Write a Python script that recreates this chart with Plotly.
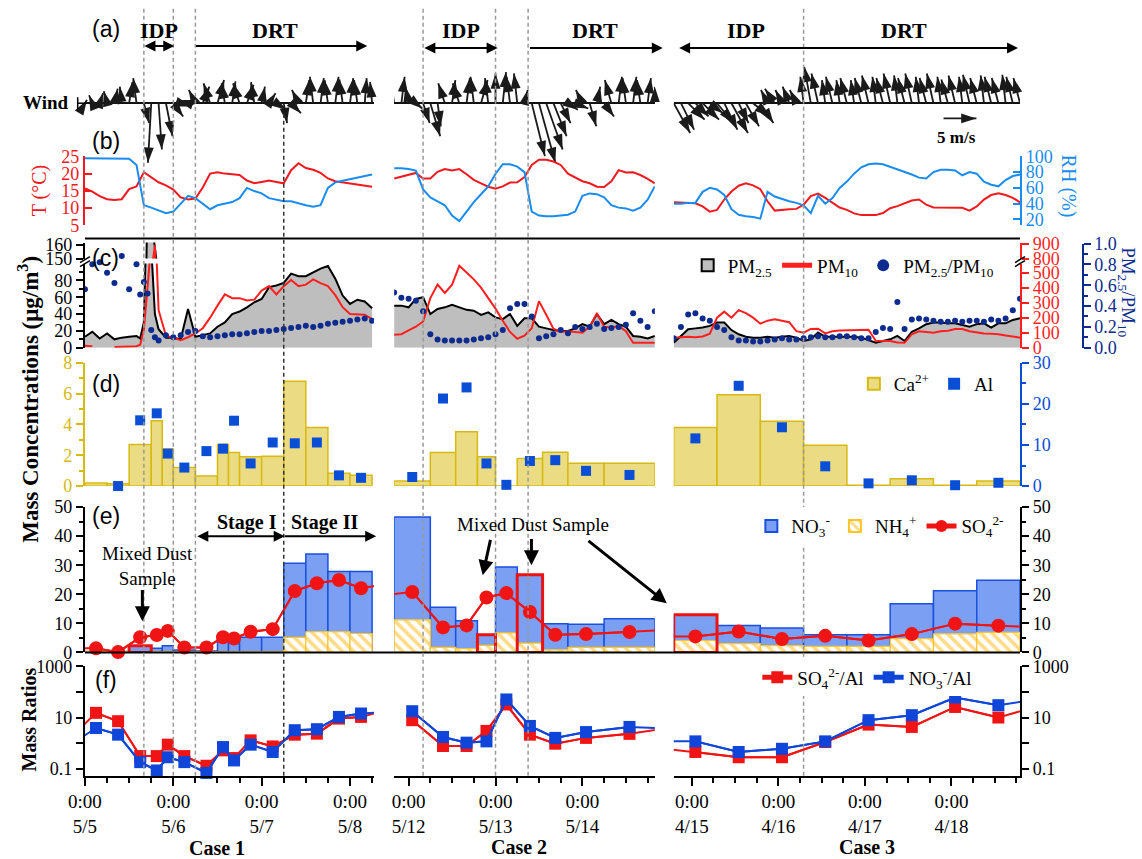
import math
from datetime import datetime, timedelta
import plotly.graph_objects as go

W, H = 1142, 875
SERIF = "Liberation Serif"
SANS = "Liberation Sans"

# ------------------------------------------------------------------ data
# Case 1: 5/5 - 5/8
c1_start = datetime(2015, 5, 5, 0)
c1_span_h = 78.5
c1_days = [datetime(2015, 5, d) for d in (5, 6, 7, 8)]
c1_idp = [16, 24]          # hours from start
c1_drt = 30
c1_stage2 = 54
c1_met_h = list(range(0, 79, 2))
c1_temp = [15.7, 14.8, 13.5, 12.6, 12.4, 12.6, 15.5, 16.3, 20.4, 19.0, 17.5, 16.6, 15.4, 13.1, 12.5, 12.8,
           16.0, 20.0, 20.4, 20.0, 19.7, 19.6, 18.0, 17.2, 17.6, 18.0, 17.6, 17.2, 21.0, 23.0, 21.6, 21.1,
           20.2, 18.6, 17.8, 17.5, 17.2, 17.0, 16.6, 16.2]
c1_rh = [97.5, 97.5, 97.5, 97.5, 97.5, 97.5, 97, 89, 38, 35, 31, 28, 30, 40, 50, 47, 40, 33, 38, 40,
         42, 47, 60, 56, 53, 47, 45, 43, 43, 40, 38, 36, 38, 60, 67, 69, 71, 73, 75, 77]
c1_wind_u = [0.3, -0.5, 0.5, -0.5, 0.5, -0.3, 0.5, -0.5, 0.8, -0.5, 0.5, 1.0, 1.5, 1.5, -1.5, -1.0,
             1.0, -1.0, 1.0, -0.5, 0.5, -1.0, 1.0, -0.5, 0.5, 1.0, 1.5, 0.5, 1.5, -1.0, 0.5, -0.5,
             0.5, -0.5, 0.5, -0.5, 0.5, -0.5, 0.3, -0.3]
c1_wind_v = [0.5, 1.2, 1.5, 1.8, 2.2, 2.5, 3.2, 3.8, -3.0, -9.0, -7.0, -5.0, -2.0, -0.5, 0.5, 2.0,
             2.5, 3.0, 3.5, 3.0, 3.3, 3.0, 2.8, 3.2, 2.5, 1.5, -1.0, -3.0, -1.5, 2.0, 3.5, 4.0,
             3.8, 3.5, 4.0, 3.6, 3.8, 3.5, 3.8, 3.2]
c1_pm_h = [0, 2, 4, 6, 8, 10, 12, 14, 15, 16, 17, 18, 19, 20, 22, 24, 26, 28, 30, 32, 34, 36, 38, 40,
           42, 44, 46, 48, 50, 52, 54, 56, 58, 60, 62, 64, 66, 68, 70, 72, 74, 76, 78]
c1_pm25 = [13, 19, 11, 17, 10, 12, 13, 14, 11, 30, 200, 120, 40, 22, 12, 12, 10, 46, 13, 15, 17, 25,
           30, 40, 43, 48, 54, 58, 72, 74, 77, 88, 85, 85, 90, 94, 97, 82, 62, 52, 57, 55, 47]
c1_pm10 = [13, 10, None, None, 5, 5, 7, 10, 20, 120, 400, 700, 890, 250, 80, 67, 50, 70, 95, 130, 200,
           280, 355, 330, 330, 315, 320, 380, 410, 355, 410, 450, 410, 420, 455, 430, 410, 350, 270,
           225, 225, 220, 190]
c1_ratio = [0.56, 0.8, 0.82, 0.72, 0.62, 0.88, 0.56, 0.8, 0.51, 0.63, 0.52, 0.17, 0.10, 0.07, 0.12,
            0.10, 0.12, 0.15, 0.16, 0.11, 0.10, 0.11, 0.12, 0.13, 0.13, 0.14, 0.15, 0.16, 0.16, 0.17,
            0.18, 0.19, 0.20, 0.21, 0.20, 0.21, 0.23, 0.24, 0.25, 0.26, 0.27, 0.28, 0.26]
c1_edges = [-6, 0, 6, 12, 18, 21, 24, 30, 36, 39, 42, 48, 54, 60, 66, 72, 78, 84]
c1_ca = [None, 0.2, 0.15, 2.7, 4.24, 2.4, 1.2, 0.65, 2.7, 2.17, 1.9, 1.93, 6.8, 3.8, 0.83, 0.7, None]
c1_al = [None, None, 0.0, 16.0, 17.7, 7.9, 4.5, 8.5, 9.1, 15.9, 5.5, 10.6, 10.4, 10.6, 2.6, 2.0, None]
c1_no3 = [None, 0.3, 0.3, 2.3, 1.4, 2.3, 0.8, 0.5, 4.5, 5.2, 5.2, 5.2, 30.7, 33.9, 27.8, 27.8, None]
c1_nh4 = [None, 0.3, 0.3, 0.3, 0.3, 0.3, 0.3, 0.3, 0.3, 0.3, 0.3, 0.3, 5.2, 7.1, 7.1, 6.5, None]
c1_so4 = [1.4, 1.4, 0.1, 5.2, 6.0, 7.4, 1.7, 1.7, 5.2, 4.8, 7.1, 8.0, 21.1, 23.8, 24.9, 22.1, 23.3]
c1_so4_al = [2.2, 15.3, 7.2, 0.31, 0.31, 0.87, 0.31, 0.13, 0.52, 0.26, 1.28, 0.74, 2.14, 2.34, 9.1, 10.6, 18]
c1_no3_al = [1.05, 3.9, 2.14, 0.18, 0.085, 0.28, 0.18, 0.068, 0.7, 0.21, 0.87, 0.45, 3.2, 3.5, 10.6, 14.4, 16]
c1_mixed = [3]

# Case 2: 5/12 - 5/14
c2_start = datetime(2015, 5, 11, 20)
c2_span_h = 72
c2_days = [datetime(2015, 5, d) for d in (12, 13, 14)]
c2_idp = [8, 28]
c2_drt = 37
c2_met_h = list(range(0, 73, 2))
c2_temp = [18.6, 19.2, 19.8, 20.2, 18.6, 18.6, 20.5, 21.3, 20.9, 21.3, 19.8, 18.2, 17.2, 16.2, 15.6,
           16.3, 17.4, 17.5, 19.0, 22.5, 24.0, 24.0, 23.5, 22.5, 20.0, 19.0, 17.8, 17.2, 16.2, 16.1,
           17.8, 21.0, 20.3, 20.4, 19.6, 18.5, 17.2]
c2_rh = [85, 85, 84, 82, 58, 48, 43, 38, 25, 18, 30, 42, 52, 62, 78, 90, 90, 87, 80, 30, 25, 24, 24,
         25, 26, 30, 50, 53, 52, 48, 38, 35, 34, 31, 35, 45, 62]
c2_wind_u = [-0.5, 0.5, -0.5, 1.0, 1.0, 1.5, 0.5, -1.0, 0.5, -1.0, 0.5, -0.5, 1.0, -0.5, 0.0, 0.5,
             -0.5, -0.5, 0.5, 2.0, 2.5, 2.5, 2.0, 1.5, 1.5, 2.0, -1.0, 1.0, 0.5, 1.5, -1.0, 0.5,
             -0.5, 0.5, -0.5, 0.5, 0.0]
c2_wind_v = [3.5, 4.0, 2.5, -0.8, -3.0, -5.0, -3.5, 3.0, 3.5, 3.0, 3.8, 4.0, 3.5, 3.8, 4.5, 4.7,
             4.0, 4.5, 2.0, -8.0, -9.0, -7.0, -5.0, -3.0, -1.0, -0.8, 2.0, -3.5, 2.5, -2.0, 3.5,
             4.0, 3.8, 4.0, 3.5, 3.8, 2.5]
c2_pm_h = list(range(0, 73, 2))
c2_pm25 = [50, 50, 48, 58, 60, 40, 46, 48, 51, 48, 45, 44, 39, 42, 36, 34, 40, 26, 35, 35, 25, 23, 21,
           20, 20, 23, 28, 25, 40, 28, 33, 28, 25, 14, 13, 11, 14]
c2_pm10 = [87, 90, 115, 140, 175, 330, 420, 365, 420, 545, 500, 455, 400, 330, 260, 180, 105, 60, 80,
           130, 310, 220, 127, 105, 110, 105, 100, 140, 230, 140, 133, 145, 110, 33, 33, 33, 33]
c2_ratio = [0.53, 0.48, 0.47, 0.45, 0.35, 0.13, 0.08, 0.07, 0.07, 0.07, 0.07, 0.08, 0.09, 0.10, 0.13,
            0.17, 0.38, 0.42, 0.42, 0.30, 0.09, 0.11, 0.13, 0.17, 0.14, 0.20, 0.18, 0.20, 0.23, 0.18,
            0.19, 0.20, 0.22, 0.33, 0.26, 0.20, 0.35]
c2_edges = [-10, 0, 10, 17, 23, 28, 34, 41, 48, 58, 72, 82]
c2_ca = [None, 0.33, 2.17, 3.52, 1.9, 0.0, 1.78, 2.2, 1.48, 1.48, None]
c2_al = [None, 2.2, 21.3, 24.0, 5.5, 0.3, 6.1, 6.3, 3.7, 2.7, None]
c2_no3 = [None, 46.6, 15.5, 10.9, 6.1, 29.4, 26.7, 9.9, 9.7, 11.6, None]
c2_nh4 = [None, 11.2, 1.7, 1.3, 2.4, 6.7, 3.2, 0.9, 1.7, 1.7, None]
c2_so4 = [19.4, 20.8, 8.6, 9.3, 18.9, 20.4, 13.9, 6.1, 6.3, 7.0, 7.9]
c2_so4_al = [None, 7.9, 0.77, 0.77, 3.0, 32.5, 2.14, 0.95, 1.6, 2.3, 4.1]
c2_no3_al = [None, 17.7, 1.74, 1.04, 1.17, 51, 4.7, 1.6, 2.7, 4.3, 3.7]
c2_mixed = [4, 6]

# Case 3: 4/15 - 4/18
c3_start = datetime(2015, 4, 14, 19)
c3_span_h = 96
c3_days = [datetime(2015, 4, d) for d in (15, 16, 17, 18)]
c3_drt = 36
c3_met_h = list(range(0, 97, 2))
c3_temp = [11.7, 11.6, 11.5, 11.4, 10.5, 9.0, 9.5, 12.5, 14.8, 16.5, 17.2, 16.6, 15.5, 12.0, 9.3, 9.6,
           9.7, 9.8, 11.0, 13.5, 14.2, 13.0, 11.5, 10.2, 9.5, 8.5, 8.0, 8.0, 8.0, 8.6, 10.0, 10.6, 11.3,
           12.2, 12.5, 11.0, 10.2, 10.2, 10.2, 10.2, 10.1, 9.3, 10.5, 12.5, 13.8, 14.3, 13.8, 13.0, 11.7]
c3_rh = [40, 40, 41, 41, 55, 60, 58, 51, 33, 26, 24, 23, 21, 55, 49, 46, 43, 41, 38, 28, 50, 40, 47,
         60, 68, 78, 86, 90, 91, 90, 87, 84, 80, 77, 73, 72, 80, 83, 83, 82, 76, 80, 78, 68, 64, 62,
         70, 75, 77]
c3_wind_u = [2.5, 2.0, 2.5, 2.0, 2.5, 2.0, 2.5, 2.0, 2.5, 1.5, 2.0, 2.5, 2.0, -1.0, -1.5, -1.0, -1.0,
             -1.0, -0.5, -1.0, -1.0, -0.5, -1.0, -0.5, -1.0, -0.5, -1.0, -1.0, -0.5, -1.0, -1.0,
             -0.5, -1.0, -1.0, -0.5, -1.0, -1.0, -0.5, -1.0, -1.0, -0.5, -1.0, -1.0, -0.5, -1.0,
             -1.0, -0.5, -1.0, -1.0]
c3_wind_v = [-4.5, -4.0, -2.5, -2.0, -2.5, -1.5, -3.0, -4.0, -4.5, -3.0, -3.5, -2.0, -3.0, 2.0, 2.2,
             2.0, 2.5, 2.0, 4.0, 5.5, 4.5, 3.5, 4.0, 3.5, 3.8, 3.5, 3.8, 4.2, 4.0, 3.8, 4.5, 4.2, 3.8,
             4.5, 4.0, 3.8, 4.5, 4.0, 3.6, 4.2, 4.0, 4.3, 3.8, 4.2, 4.0, 3.8, 4.3, 4.0, 3.8]
c3_pm_h = list(range(0, 97, 2))
c3_pm25 = [6, 14, 22, 23, 24, 26, 30, 30, 21, 16, 13, 12, 12, 13, 12, 13, 14, 12, 8, 10, 18, 13, 13,
           13, 13, 13, 12, 9, 6, 8, 10, 14, 8, 19, 23, 28, 30, 30, 29, 29, 27, 25, 28, 29, 24, 29, 29,
           33, 35]
c3_pm10 = [67, 70, 73, 70, 75, 93, 200, 240, 200, 250, 230, 200, 160, 180, 190, 180, 170, 110, 100,
           125, 127, 95, 110, 115, 117, 117, 117, 120, 47, 47, 45, 35, 33, 90, 110, 105, 100, 110,
           113, 125, 125, 110, 100, 95, 93, 90, 82, 75, 67]
c3_ratio = [0.09, 0.20, 0.32, 0.33, 0.28, 0.26, 0.20, 0.17, 0.10, 0.07, 0.07, 0.06, 0.06, 0.07, 0.08,
            0.09, 0.08, 0.08, 0.09, 0.10, 0.11, 0.10, 0.10, 0.11, 0.11, 0.10, 0.09, 0.09, 0.15, 0.19,
            0.18, 0.44, 0.18, 0.27, 0.28, 0.27, 0.26, 0.25, 0.25, 0.26, 0.25, 0.26, 0.26, 0.25, 0.27,
            0.26, 0.28, 0.36, 0.47]
c3_edges = [-12, 0, 12, 24, 36, 48, 60, 72, 84, 96, 108]
c3_ca = [None, 3.8, 5.93, 4.2, 2.65, 0.05, 0.48, 0.05, 0.33, None]
c3_al = [None, 11.6, 24.4, 14.3, 4.8, 0.65, 1.4, 0.2, 0.8, None]
c3_no3 = [None, 13.0, 9.3, 8.4, 6.1, 6.1, 16.7, 21.2, 24.8, None]
c3_nh4 = [None, 4.1, 3.0, 2.3, 2.1, 2.1, 4.7, 6.4, 6.9, None]
c3_so4 = [5.5, 5.5, 7.2, 4.6, 5.7, 4.1, 6.3, 9.9, 9.2, 8.6]
c3_so4_al = [0.68, 0.45, 0.28, 0.28, 1.1, 5.3, 4.3, 26, 10, 31]
c3_no3_al = [1.17, 1.17, 0.45, 0.6, 1.17, 7.9, 12.4, 61, 30.5, 55]
c3_mixed = [1]

SCALE_SPEED = 5  # m/s, reference arrow

# ------------------------------------------------------------------ geometry / styling
# Layout positions are written in page pixels; the page shows the figure offset by
# (14, 10) px and scaled by (0.99, 0.975), so positions are mapped back into figure pixels.
PAGE_X0, PAGE_SX = 14.0, 0.99
PAGE_Y0, PAGE_SY = 10.0, 0.975

CASE_PX = [(82.3, 372.7), (393, 655), (674, 1022)]
WIND_PX, BASE_PX, PX_PER_MS = (60, 175), 103, 6.6
MET_PX = (156, 225)
PM_LO_PX, PM_HI_PX, RATIO_PX = (263, 347), (242, 258), (243, 347)
DUST_PX, ION_PX, MR_PX = (362, 485), (506, 651), (665, 774)

T_COLOR, RH_COLOR = '#f0191e', '#1a8cf0'
PM10_COLOR, RATIO_COLOR = '#ff1f1f', '#0d2a8e'
CA_FILL, CA_EDGE = '#ebdc84', '#d6ba12'
AL_COLOR = '#0a4ed6'
NO3_FILL, NO3_EDGE = '#7b9ff2', '#1b4fe0'
NH4_COLOR = '#ffb60f'
SO4_COLOR = '#f01414'
MR_BLUE = '#0f45d8'


def px_x(p):
    return (p - PAGE_X0) / PAGE_SX / W


def px_y(p):
    return 1 - (p - PAGE_Y0) / PAGE_SY / H


def dom(pair):
    return [px_y(pair[1]), px_y(pair[0])]


axes = {}
ycount = [0]


def new_y(spec):
    ycount[0] += 1
    n = ycount[0]
    axes['yaxis' if n == 1 else f'yaxis{n}'] = spec
    return 'y' if n == 1 else f'y{n}'


def shown(color, side, tickvals, ticks='outside', fmt=None, minor_vals=None, ticktext=None):
    d = dict(visible=True, side=side, showline=True, linecolor=color, linewidth=2,
             ticks=ticks, ticklen=7, tickwidth=1.5, tickcolor=color, tickmode='array',
             tickvals=tickvals, tickfont=dict(family=SERIF, size=18, color=color),
             showgrid=False, zeroline=False)
    if ticktext is not None:
        d['ticktext'] = ticktext
    if fmt:
        d['tickformat'] = fmt
    if minor_vals is not None:
        d['minor'] = dict(tickmode='array', tickvals=minor_vals, ticks=ticks, ticklen=4,
                          tickwidth=1.5, tickcolor=color, showgrid=False)
    return d


def hid():
    return dict(visible=False, showgrid=False, zeroline=False)


wind_range = [-(WIND_PX[1] - BASE_PX) / PX_PER_MS, (BASE_PX - WIND_PX[0]) / PX_PER_MS]
RH_RANGE = [100 - (MET_PX[1] - MET_PX[0]) / 0.7875, 100]
PM25_LO = [0, 100]
PM10_LO = [0, (PM_LO_PX[1] - PM_LO_PX[0]) / 0.15]
PM25_HI = [150, 150 + (PM_HI_PX[1] - PM_HI_PX[0]) / 1.4]
PM10_HI = [800, 800 + (PM_HI_PX[1] - PM_HI_PX[0]) / 0.15]
MR_RANGE = [-1 - (MR_PX[1] - 767) / 25.5, 3]

cases = [
    dict(start=c1_start, span=c1_span_h, days=c1_days, met_h=c1_met_h, temp=c1_temp, rh=c1_rh,
         wu=c1_wind_u, wv=c1_wind_v, pm_h=c1_pm_h, pm25=c1_pm25, pm10=c1_pm10, ratio=c1_ratio,
         edges=c1_edges, ca=c1_ca, al=c1_al, no3=c1_no3, nh4=c1_nh4, so4=c1_so4,
         so4_al=c1_so4_al, no3_al=c1_no3_al, mixed=c1_mixed),
    dict(start=c2_start, span=c2_span_h, days=c2_days, met_h=c2_met_h, temp=c2_temp, rh=c2_rh,
         wu=c2_wind_u, wv=c2_wind_v, pm_h=c2_pm_h, pm25=c2_pm25, pm10=c2_pm10, ratio=c2_ratio,
         edges=c2_edges, ca=c2_ca, al=c2_al, no3=c2_no3, nh4=c2_nh4, so4=c2_so4,
         so4_al=c2_so4_al, no3_al=c2_no3_al, mixed=c2_mixed),
    dict(start=c3_start, span=c3_span_h, days=c3_days, met_h=c3_met_h, temp=c3_temp, rh=c3_rh,
         wu=c3_wind_u, wv=c3_wind_v, pm_h=c3_pm_h, pm25=c3_pm25, pm10=c3_pm10, ratio=c3_ratio,
         edges=c3_edges, ca=c3_ca, al=c3_al, no3=c3_no3, nh4=c3_nh4, so4=c3_so4,
         so4_al=c3_so4_al, no3_al=c3_no3_al, mixed=c3_mixed),
]

fig = go.Figure()
xaxes = {}

for i, cs in enumerate(cases):
    xr = 'x' if i == 0 else f'x{i + 1}'
    left, right = i == 0, i == 2
    start, span = cs['start'], cs['span']

    def at(h, start=start):
        return start + timedelta(hours=h)

    # ---- axes
    y_wind = new_y(dict(domain=dom(WIND_PX), range=wind_range, anchor=xr, visible=True,
                        showline=False, showticklabels=False, ticks='', showgrid=False,
                        zeroline=True, zerolinecolor='#111111', zerolinewidth=2))
    y_t = new_y({**(shown(T_COLOR, 'left', [5, 10, 15, 20, 25], ticks='inside') if left else hid()),
                 'domain': dom(MET_PX), 'range': [5, 25], 'anchor': xr})
    y_rh = new_y({**(shown(RH_COLOR, 'right', [20, 40, 60, 80, 100], ticks='inside') if right else hid()),
                  'overlaying': y_t, 'range': RH_RANGE, 'anchor': xr})
    y_pm25 = new_y({**(shown('black', 'left', [0, 20, 40, 60, 80], minor_vals=[10, 30, 50, 70, 90]) if left else hid()),
                    'domain': dom(PM_LO_PX), 'range': PM25_LO, 'anchor': xr})
    y_pm10 = new_y({**(shown(PM10_COLOR, 'right', [0, 100, 200, 300, 400, 500]) if right else hid()),
                    'overlaying': y_pm25, 'range': PM10_LO, 'anchor': xr})
    y_hi25 = y_hi10 = None
    if left or right:
        y_hi25 = new_y({**(shown('black', 'left', [150, 160]) if left else hid()),
                        'domain': dom(PM_HI_PX), 'range': PM25_HI, 'anchor': xr})
        y_hi10 = new_y({**(shown(PM10_COLOR, 'right', [800, 900]) if right else hid()),
                        'overlaying': y_hi25, 'range': PM10_HI, 'anchor': xr})
    if right:
        y_ratio = new_y({**shown(RATIO_COLOR, 'right', [0, 0.2, 0.4, 0.6, 0.8, 1.0], fmt='.1f',
                                 minor_vals=[0.1, 0.3, 0.5, 0.7, 0.9]),
                         'domain': dom(RATIO_PX), 'range': [0, 1], 'anchor': 'free',
                         'position': px_x(1085)})
    else:
        y_ratio = new_y({**hid(), 'domain': dom(RATIO_PX), 'range': [0, 1], 'anchor': xr})
    y_ca = new_y({**(shown(CA_EDGE, 'left', [0, 2, 4, 6, 8], minor_vals=[1, 3, 5, 7]) if left else hid()),
                  'domain': dom(DUST_PX), 'range': [0, 8], 'anchor': xr})
    y_al = new_y({**(shown(AL_COLOR, 'right', [0, 10, 20, 30], minor_vals=[5, 15, 25]) if right else hid()),
                  'overlaying': y_ca, 'range': [0, 30], 'anchor': xr})
    ion_spec = shown('black', 'left' if left else 'right', [0, 10, 20, 30, 40, 50],
                     minor_vals=[5, 15, 25, 35, 45]) if (left or right) else hid()
    y_ion = new_y({**ion_spec, 'domain': dom(ION_PX), 'range': [0, 50], 'anchor': xr})
    mr_spec = shown('black', 'left' if left else 'right', [0.1, 1, 10, 100, 1000],
                    ticktext=['0.1', '', '10', '', '1000']) if (left or right) else hid()
    y_mr = new_y({**mr_spec, 'type': 'log', 'domain': dom(MR_PX), 'range': MR_RANGE, 'anchor': xr})

    days = cs['days']
    minor = []
    for k in range(-8, 30):
        d = days[0] + timedelta(hours=6 * k)
        if at(0) <= d <= at(span) and d not in days:
            minor.append(d)
    xaxes['xaxis' if i == 0 else f'xaxis{i + 1}'] = dict(
        domain=[px_x(CASE_PX[i][0]), px_x(CASE_PX[i][1])], type='date', range=[at(0), at(span)],
        anchor=y_mr, side='bottom', showline=True, linecolor='black', linewidth=2,
        ticks='outside', ticklen=8, tickwidth=1.5, tickcolor='black', tickmode='array',
        tickvals=days, ticktext=[f'0:00<br>{d.month}/{d.day}' for d in days],
        tickfont=dict(family=SERIF, size=19, color='black'), showgrid=False, zeroline=False,
        minor=dict(tickmode='array', tickvals=minor, ticks='outside', ticklen=5, tickwidth=1.5,
                   tickcolor='black', showgrid=False))

    # ---- (a) wind vectors
    pxh = (CASE_PX[i][1] - CASE_PX[i][0]) / span
    k_h = PX_PER_MS / pxh          # hours of x per m/s
    sx, sy, hx, hy, ang = [], [], [], [], []
    vecs = list(zip(cs['met_h'], cs['wu'], cs['wv'], [0] * len(cs['met_h'])))
    if right:
        vecs.append((74.8, SCALE_SPEED, 0, -2.3))
    for h, u, v, y0 in vecs:
        tail, tip = at(h), at(h + u * k_h)
        sx += [tail, tip, None]
        sy += [y0, y0 + v, None]
        hx.append(tip)
        hy.append(y0 + v)
        ang.append(math.degrees(math.atan2(u, v)))
    fig.add_trace(go.Scatter(x=sx, y=sy, mode='lines', line=dict(color='#1a1a1a', width=1.8),
                             xaxis=xr, yaxis=y_wind, showlegend=False, hoverinfo='skip'))
    fig.add_trace(go.Scatter(x=hx, y=hy, mode='markers', xaxis=xr, yaxis=y_wind,
                             marker=dict(symbol='arrow', size=16, angle=ang, color='#1a1a1a',
                                         line=dict(width=0)),
                             cliponaxis=False, showlegend=False, hoverinfo='skip'))

    # ---- (b) temperature / RH
    mt = [at(h) for h in cs['met_h']]
    fig.add_trace(go.Scatter(x=mt, y=cs['temp'], mode='lines', line=dict(color=T_COLOR, width=2),
                             xaxis=xr, yaxis=y_t, showlegend=False))
    fig.add_trace(go.Scatter(x=mt, y=cs['rh'], mode='lines', line=dict(color=RH_COLOR, width=2),
                             xaxis=xr, yaxis=y_rh, showlegend=False))

    # ---- (c) PM
    pt = [at(h) for h in cs['pm_h']]
    if left:
        # legend swatch for the shaded PM2.5 area
        fig.add_trace(go.Bar(x=[None], y=[None], xaxis=xr, yaxis=y_pm25, name='PM<sub>2.5</sub>',
                             marker=dict(color='#bebebe', line=dict(color='black', width=2)),
                             legend='legend', showlegend=True))
    fig.add_trace(go.Scatter(x=pt, y=cs['pm25'], mode='lines', fill='tozeroy', fillcolor='#bebebe',
                             line=dict(color='black', width=2), xaxis=xr, yaxis=y_pm25,
                             showlegend=False))
    fig.add_trace(go.Scatter(x=pt, y=cs['pm10'], mode='lines', line=dict(color=PM10_COLOR, width=2),
                             xaxis=xr, yaxis=y_pm10, name='PM<sub>10</sub>', legend='legend',
                             showlegend=left))
    if y_hi25 is not None:
        fig.add_trace(go.Scatter(x=pt, y=cs['pm25'], mode='lines', fill='tozeroy', fillcolor='#bebebe',
                                 line=dict(color='black', width=2), xaxis=xr, yaxis=y_hi25,
                                 showlegend=False))
        fig.add_trace(go.Scatter(x=pt, y=cs['pm10'], mode='lines', line=dict(color=PM10_COLOR, width=2),
                                 xaxis=xr, yaxis=y_hi10, showlegend=False))
    fig.add_trace(go.Scatter(x=pt, y=cs['ratio'], mode='markers',
                             marker=dict(color=RATIO_COLOR, size=6), xaxis=xr, yaxis=y_ratio,
                             name='PM<sub>2.5</sub>/PM<sub>10</sub>', legend='legend', showlegend=left))

    # ---- samples
    ed = cs['edges']
    mids_h = [(a + b) / 2 for a, b in zip(ed[:-1], ed[1:])]
    mids = [at(h) for h in mids_h]
    widths = [(b - a) * 3600 * 1000 for a, b in zip(ed[:-1], ed[1:])]
    inner = [j for j, h in enumerate(mids_h) if 0 <= h <= span]

    def pick(arr):
        return [arr[j] for j in inner]

    # (d) Ca2+ / Al
    fig.add_trace(go.Bar(x=mids, y=cs['ca'], width=widths, xaxis=xr, yaxis=y_ca,
                         marker=dict(color=CA_FILL, line=dict(color=CA_EDGE, width=1.5)),
                         name='Ca<sup>2+</sup>', legend='legend2', showlegend=left))
    fig.add_trace(go.Scatter(x=mids, y=cs['al'], mode='markers', xaxis=xr, yaxis=y_al,
                             marker=dict(symbol='square', size=10, color=AL_COLOR),
                             cliponaxis=False, name='Al', legend='legend2', showlegend=left))

    # (e) ions
    fig.add_trace(go.Bar(x=mids, y=cs['no3'], width=widths, xaxis=xr, yaxis=y_ion,
                         marker=dict(color=NO3_FILL, line=dict(color=NO3_EDGE, width=1.5)),
                         name='NO<sub>3</sub><sup>-</sup>', legend='legend3', showlegend=left))
    fig.add_trace(go.Bar(x=mids, y=cs['nh4'], width=widths, xaxis=xr, yaxis=y_ion,
                         marker=dict(color='white', line=dict(color='#ffc526', width=1.2),
                                     pattern=dict(shape='\\', fgcolor=NH4_COLOR, bgcolor='white',
                                                  size=8, solidity=0.45)),
                         name='NH<sub>4</sub><sup>+</sup>', legend='legend3', showlegend=left))
    boxed = [cs['no3'][j] if j in cs['mixed'] else None for j in range(len(mids))]
    fig.add_trace(go.Bar(x=mids, y=boxed, width=widths, xaxis=xr, yaxis=y_ion,
                         marker=dict(color='rgba(0,0,0,0)', line=dict(color='#ee1111', width=3)),
                         showlegend=False))
    fig.add_trace(go.Scatter(x=mids, y=cs['so4'], mode='lines', line=dict(color=SO4_COLOR, width=2),
                             xaxis=xr, yaxis=y_ion, showlegend=False, hoverinfo='skip'))
    fig.add_trace(go.Scatter(x=pick(mids), y=pick(cs['so4']), mode='lines+markers',
                             line=dict(color=SO4_COLOR, width=2),
                             marker=dict(symbol='circle', size=14, color=SO4_COLOR),
                             cliponaxis=False, xaxis=xr, yaxis=y_ion,
                             name='SO<sub>4</sub><sup>2-</sup>', legend='legend3', showlegend=left))

    # (f) mass ratios
    for key, col, nm in (('so4_al', SO4_COLOR, 'SO<sub>4</sub><sup>2-</sup>/Al'),
                         ('no3_al', MR_BLUE, 'NO<sub>3</sub><sup>-</sup>/Al')):
        fig.add_trace(go.Scatter(x=mids, y=cs[key], mode='lines', line=dict(color=col, width=2),
                                 xaxis=xr, yaxis=y_mr, showlegend=False, hoverinfo='skip'))
        fig.add_trace(go.Scatter(x=pick(mids), y=pick(cs[key]), mode='lines+markers',
                                 line=dict(color=col, width=2),
                                 marker=dict(symbol='square', size=12, color=col),
                                 cliponaxis=False, xaxis=xr, yaxis=y_mr, name=nm,
                                 legend='legend4', showlegend=left))

# ------------------------------------------------------------------ shapes
shapes = []


def pline(x0, y0, x1, y1, color='black', width=2):
    shapes.append(dict(type='line', xref='paper', yref='paper', x0=px_x(x0), y0=px_y(y0),
                       x1=px_x(x1), y1=px_y(y1), line=dict(color=color, width=width)))


def vline(xref, t, top_px, color):
    shapes.append(dict(type='line', xref=xref, yref='paper', x0=t, x1=t, y0=px_y(774),
                       y1=px_y(top_px), layer='above',
                       line=dict(color=color, width=1.5, dash='4px,3px')))


pline(82.3, 238, 1022, 238)
pline(82.3, 651, 1022, 651)
pline(75, 97, 75, 109, width=1.5)
pline(75, 103, 83, 103, width=1.5)
for bx in (82.3, 1022):
    pline(bx - 5, 262, bx + 5, 256, width=1.5)
    pline(bx - 5, 266, bx + 5, 260, width=1.5)

GRAY, DARK = '#9a9a9a', '#333333'
for h in c1_idp + [c1_drt]:
    vline('x', c1_start + timedelta(hours=h), 8, GRAY)
vline('x', c1_start + timedelta(hours=c1_stage2), 112, DARK)
for h in c2_idp + [c2_drt]:
    vline('x2', c2_start + timedelta(hours=h), 8, GRAY)
vline('x3', c3_start + timedelta(hours=c3_drt), 8, GRAY)

# ------------------------------------------------------------------ annotations
ann = []


def text(x, y, s, size=19, bold=False, color='black', family=SERIF, angle=0, xanchor='center'):
    if bold:
        s = f'<b>{s}</b>'
    ann.append(dict(x=px_x(x), y=px_y(y), xref='paper', yref='paper', text=s, showarrow=False,
                    font=dict(family=family, size=size, color=color), textangle=angle,
                    xanchor=xanchor, yanchor='middle'))


def arrow(x0, y0, x1, y1, both=False, width=2, size=1.1):
    ann.append(dict(x=px_x(x1), y=px_y(y1), xref='paper', yref='paper',
                    ax=(x0 - x1) / PAGE_SX, ay=(y0 - y1) / PAGE_SY,
                    axref='pixel', ayref='pixel', text='', showarrow=True, arrowhead=2,
                    startarrowhead=2, arrowside='end+start' if both else 'end',
                    arrowwidth=width, arrowsize=size, startarrowsize=size, arrowcolor='black'))


for lbl, y in (('(a)', 29), ('(b)', 141), ('(c)', 257), ('(d)', 383), ('(e)', 515), ('(f)', 679)):
    text(103, y, lbl, size=23, family=SANS)

for x, s in ((157, 'IDP'), (273, 'DRT'), (460, 'IDP'), (595, 'DRT'), (747, 'IDP'), (905, 'DRT')):
    text(x, 30, s, size=22, bold=True)
arrow(141, 46, 172, 46, both=True)
arrow(195, 46, 366, 46)
arrow(423, 48, 497, 48, both=True)
arrow(530, 48, 663, 48)
arrow(683, 48, 1020, 48, both=True)

text(68, 102, 'Wind', size=19, bold=True, xanchor='right')
text(958, 137, '5 m/s', size=17, bold=True)
text(37, 190, 'T (°C)', size=20, color=T_COLOR, angle=-90)
text(1071, 186, 'RH (%)', size=20, color=RH_COLOR, angle=90)
text(1130, 292, 'PM<sub>2.5</sub>/PM<sub>10</sub>', size=19, color=RATIO_COLOR, angle=90)
text(26, 398, 'Mass Concentrations (μg/m<sup>3</sup>)', size=23, bold=True, angle=-90)
text(26, 718, 'Mass Ratios', size=20, bold=True, angle=-90)

text(245, 521, 'Stage I', size=20, bold=True)
text(323, 521, 'Stage II', size=20, bold=True)
arrow(195, 535, 283, 535, both=True)
arrow(283, 535, 375, 535)

text(145, 565, 'Mixed Dust<br>Sample', size=19)
arrow(140, 588, 140, 620, width=3, size=1.0)
text(533, 523, 'Mixed Dust Sample', size=19)
arrow(490, 538, 482, 574, width=3, size=1.0)
arrow(531, 537, 531, 564, width=3, size=1.0)
arrow(588, 540, 667, 602, width=3, size=1.0)

for x, y, s in ((215, 846, 'Case 1'), (518, 845, 'Case 2'), (868, 845, 'Case 3')):
    text(x, y, s, size=20, bold=True)

legend_base = dict(orientation='h', xanchor='left', yanchor='top', itemwidth=30,
                   font=dict(family=SERIF, size=19, color='black'), itemsizing='constant',
                   borderwidth=0)

fig.update_layout(
    width=W, height=H, autosize=False, margin=dict(l=0, r=0, t=0, b=0),
    paper_bgcolor='white', plot_bgcolor='rgba(0,0,0,0)', barmode='overlay',
    font=dict(family=SERIF, size=18, color='black'), showlegend=True,
    shapes=shapes, annotations=ann,
    legend=dict(**legend_base, x=px_x(688), y=px_y(246), bgcolor='rgba(0,0,0,0)'),
    legend2=dict(**legend_base, x=px_x(855), y=px_y(364), bgcolor='rgba(0,0,0,0)'),
    legend3=dict(**legend_base, x=px_x(752), y=px_y(506), bgcolor='white'),
    legend4=dict(**legend_base, x=px_x(758), y=px_y(657), bgcolor='white'),
    **axes, **xaxes,
)

fig.write_html("out.html")
